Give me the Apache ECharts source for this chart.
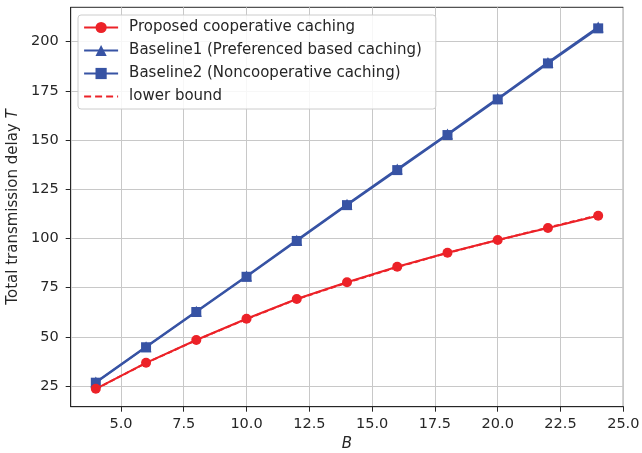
<!DOCTYPE html>
<html>
<head>
<meta charset="utf-8">
<script src="https://cdn.jsdelivr.net/npm/echarts@6/dist/echarts.min.js"></script>
<style>html,body{margin:0;padding:0;background:#fff}#c{width:642px;height:453px}</style>
</head>
<body>
<div id="c"></div>
<script>
const categories = [4, 6, 8, 10, 12, 14, 16, 18, 20, 22, 24];
const proposed = [23.6, 36.8, 48.4, 59.2, 69.2, 77.7, 85.6, 92.7, 99.2, 105.3, 111.5];
const baseline1 = [27.0, 45.0, 63.0, 80.9, 99.1, 117.3, 135.2, 153.0, 171.1, 189.4, 207.4];
const baseline2 = [26.7, 44.7, 62.6, 80.5, 98.7, 116.9, 134.7, 152.5, 170.6, 188.9, 206.7];
const lowerBound = [23.5, 36.7, 48.3, 59.0, 69.1, 77.5, 85.4, 92.6, 99.1, 105.5, 111.7];
const xTicks = [5, 7.5, 10, 12.5, 15, 17.5, 20, 22.5, 25];
const yTicks = [25, 50, 75, 100, 125, 150, 175, 200];
const names = ['Proposed cooperative caching', 'Baseline1 (Preferenced based caching)', 'Baseline2 (Noncooperative caching)', 'lower bound'];

const RED = '#ec2228';
const BLUE = '#3753a4';
const FONT = 'DejaVu Sans';
const TXT = '#262626';
const pairs = arr => categories.map((x, i) => [x, arr[i]]);

const chart = echarts.init(document.getElementById('c'), null, {renderer: 'canvas'});
chart.setOption({
  animation: false,
  textStyle: {fontFamily: FONT},
  grid: {left: 70.7, right: 18.7, top: 7.3, bottom: 46.3, containLabel: false, outerBoundsMode: 'none',
    show: true, borderColor: TXT, borderWidth: 1, backgroundColor: 'transparent'},
  legend: {
    orient: 'vertical', left: 78, top: 15,
    padding: [5, 14, 5, 5],
    itemWidth: 34, itemHeight: 14, itemGap: 8,
    backgroundColor: 'rgba(255,255,255,0.85)',
    borderColor: '#cccccc', borderWidth: 1, borderRadius: 3,
    textStyle: {fontFamily: FONT, fontSize: 15, color: TXT, padding: [0, 0, 0, 6]},
    data: [names[0], names[1], names[2], {name: names[3],
      itemStyle: {color: 'rgba(0,0,0,0)', borderWidth: 0},
      lineStyle: {color: RED, width: 2.2, type: [7, 4]}}]
  },
  xAxis: {
    type: 'value', min: 3, max: 25,
    name: 'B', nameLocation: 'middle', nameGap: 29,
    nameTextStyle: {fontFamily: FONT, fontSize: 15, fontStyle: 'italic', color: TXT},
    axisLine: {show: true, lineStyle: {color: TXT, width: 1}},
    axisTick: {show: true, length: 5, lineStyle: {color: TXT}, customValues: xTicks},
    axisLabel: {customValues: xTicks, fontSize: 14.5, color: TXT, margin: 10, formatter: v => v.toFixed(1)},
    splitLine: {show: true, lineStyle: {color: '#c8c8c8', width: 1}}
  },
  yAxis: {
    type: 'value', min: 14.5, max: 217.4,
    name: '{n|Total transmission delay }{i|T}', nameLocation: 'middle', nameGap: 45,
    nameTextStyle: {
      fontFamily: FONT, fontSize: 15, color: TXT,
      rich: {n: {fontFamily: FONT, fontSize: 15, color: TXT}, i: {fontFamily: FONT, fontSize: 15, fontStyle: 'italic', color: TXT}}
    },
    axisLine: {show: true, lineStyle: {color: TXT, width: 1}},
    axisTick: {show: true, length: 5, lineStyle: {color: TXT}, customValues: yTicks},
    axisLabel: {customValues: yTicks, fontSize: 14.5, color: TXT, margin: 12},
    splitLine: {show: true, lineStyle: {color: '#c8c8c8', width: 1}}
  },
  series: [
    {name: names[0], type: 'line', data: pairs(proposed), symbol: 'circle', symbolSize: 10,
      lineStyle: {color: RED, width: 2}, itemStyle: {color: RED}, z: 4},
    {name: names[1], type: 'line', data: pairs(baseline1), symbol: 'triangle', symbolSize: 11,
      lineStyle: {color: BLUE, width: 2}, itemStyle: {color: BLUE}, z: 3},
    {name: names[2], type: 'line', data: pairs(baseline2), symbol: 'rect', symbolSize: 10,
      lineStyle: {color: BLUE, width: 2}, itemStyle: {color: BLUE}, z: 3},
    {name: names[3], type: 'line', data: pairs(lowerBound), symbol: 'none',
      lineStyle: {color: RED, width: 2, type: [5, 3]}, itemStyle: {color: RED}, z: 5}
  ]
});
</script>
</body>
</html>
